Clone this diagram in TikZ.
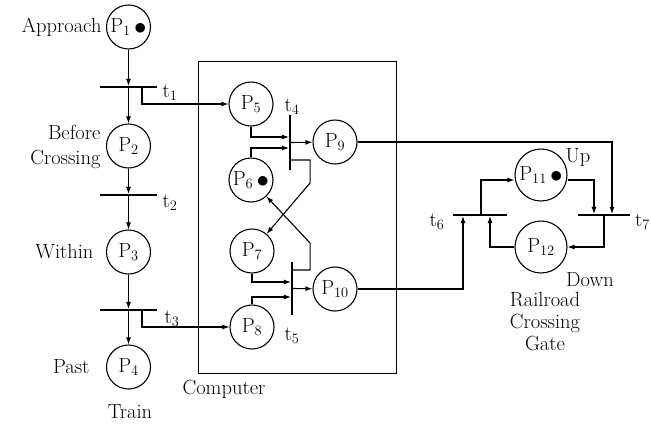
\documentclass[tikz,border=0pt]{standalone}
\usetikzlibrary{arrows.meta}
\newcommand{\tok}{\,\raisebox{-1.6pt}{\fontsize{27}{27}\selectfont$\bullet$}}

\begin{document}
\begin{tikzpicture}[x=1pt,y=-1pt,
  font=\fontsize{20.5}{22}\selectfont,
  place/.style={circle,draw,line width=1.1pt,minimum size=44pt,inner sep=0pt},
  bigplace/.style={place,minimum size=52pt},
  hbar/.style={fill,inner sep=0pt,minimum height=1.7pt},
  vbar/.style={fill,inner sep=0pt,minimum width=1.7pt},
  arc/.style={-{Latex[length=7pt,width=5pt]},line width=1.1pt}]
  \useasboundingbox (0,0) rectangle (651,424);

  % train
  \node[place] (P1) at (128.5,27) {P$_1$\tok};
  \node[place] (P2) at (128.5,146) {P$_2$};
  \node[place] (P3) at (128.5,252) {P$_3$};
  \node[place] (P4) at (128.5,367) {P$_4$};
  \foreach \n/\y in {1/87,2/195,3/310}
    \node[hbar,minimum width=57pt] (t\n) at (128.5,\y) {};
  \foreach \a/\b in {P1/t1,t1/P2,P2/t2,t2/P3,P3/t3,t3/P4}
    \draw[arc] (\a) -- (\b);
  \node[anchor=east] (approach) at (105,27) {Approach};
  \node[anchor=east,align=right] (before) at (104,147) {Before\\[3pt]Crossing};
  \node[anchor=east] (within) at (97,252) {Within};
  \node[anchor=east] (past) at (93,367) {Past};
  \node (train) at (130,412) {Train};
  \node (t1l) at (170,93) {t$_1$};
  \node (t2l) at (170,203) {t$_2$};
  \node (t3l) at (172,319) {t$_3$};

  % computer
  \draw[line width=0.9pt] (198,61) rectangle (396,373);
  \node (computer) at (224,389) {Computer};
  \node[place] (P5) at (251,104) {P$_5$};
  \node[place] (P6) at (251,180) {P$_6$\tok};
  \node[place] (P7) at (252,251) {P$_7$};
  \node[place] (P8) at (252,327) {P$_8$};
  \node[place] (P9) at (335,142) {P$_9$};
  \node[place] (P10) at (335,289) {P$_{10}$};
  \node[vbar,minimum height=55pt] (t4) at (290,142.5) {};
  \node[vbar,minimum height=53pt] (t5) at (292,288.5) {};
  \node (t4l) at (292,107) {t$_4$};
  \node (t5l) at (292,336) {t$_5$};
  \draw[arc] ([xshift=13.5pt]t1.center) |- (P5);
  \draw[arc] ([xshift=13.5pt]t3.center) |- (P8);
  \draw[arc] (P5.south) |- ([yshift=5.5pt]t4.west);
  \draw[arc] (P6.north) |- ([yshift=-5.5pt]t4.west);
  \draw[arc] (t4) -- (P9);
  \draw[arc] ([yshift=-17.5pt]t4.east) -- ++(19,0) -- ++(0,23) -- (P7);
  \draw[arc] (P7.south) |- ([yshift=6.5pt]t5.west);
  \draw[arc] (P8.north) |- ([yshift=-8.5pt]t5.west);
  \draw[arc] (t5) -- (P10);
  \draw[arc] ([yshift=18.5pt]t5.east) -- ++(17,0) -- ++(0,-27) -- (P6);

  % gate
  \node[bigplace] (P11) at (541,175) {P$_{11}$\tok};
  \node[bigplace] (P12) at (541,247) {P$_{12}$};
  \node[hbar,minimum width=54pt] (t6) at (480,215) {};
  \node[hbar,minimum width=52pt] (t7) at (604,215) {};
  \node (t6l) at (437,222) {t$_6$};
  \node[anchor=west,inner sep=1pt] (t7l) at (634,222) {t$_7$};
  \node (up) at (578,157) {Up};
  \node (down) at (590,280) {Down};
  \node[align=center] (gate) at (545,322) {Railroad\\Crossing\\Gate};
  \draw[arc] (P9) -| ([xshift=8pt]t7.north);
  \draw[arc] (P10) -| ([xshift=-17pt]t6.south);
  \draw[arc] (P12) -| ([xshift=10pt]t6.south);
  \draw[arc] ([xshift=1pt]t6.north) |- ([yshift=-5pt]P11.west);
  \draw[arc] ([yshift=-5pt]P11.east) -| ([xshift=-10pt]t7.north);
  \draw[arc] (t7.south) |- (P12);
\end{tikzpicture}
\end{document}
